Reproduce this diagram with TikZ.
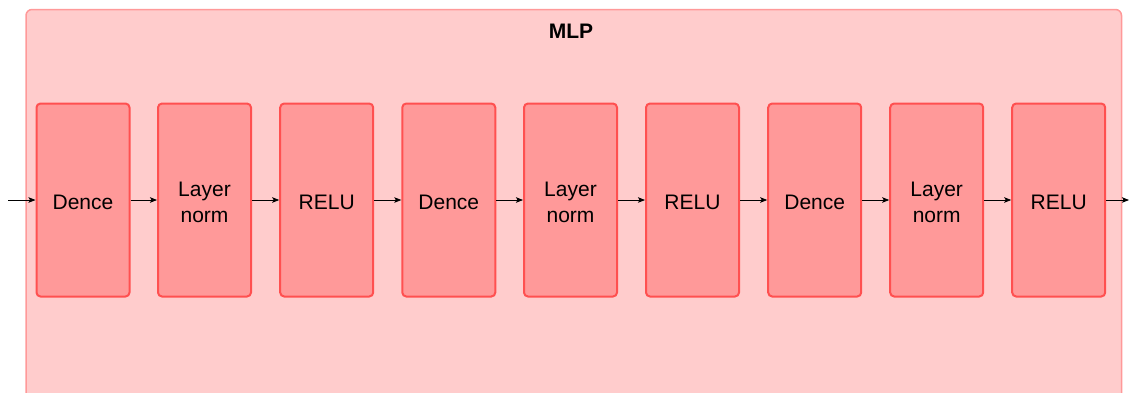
\documentclass[tikz,border=0pt]{standalone}
\usepackage{fontspec}
\setmainfont{Liberation Sans}
\usetikzlibrary{arrows.meta}
\definecolor{panelfill}{HTML}{FFCCCC}
\definecolor{paneledge}{HTML}{FF9999}
\definecolor{blockfill}{HTML}{FF9999}
\definecolor{blockedge}{HTML}{FF5050}
\tikzset{
  panel/.style={draw=paneledge, fill=panelfill, line width=1.5pt, rounded corners=6pt},
  block/.style={draw=blockedge, fill=blockfill, line width=2pt, rounded corners=4pt,
    minimum width=93pt, minimum height=193pt, inner sep=0pt},
  blocktext/.style={align=center, inner sep=0pt, yshift=-2pt,
    font=\fontsize{21}{26}\selectfont},
  flow/.style={-{Stealth[length=7pt,width=5.5pt,inset=1.5pt]}, line width=0.8pt, black},
}
\begin{document}
\begin{tikzpicture}[x=1pt,y=-1pt]
\useasboundingbox (0,0) rectangle (1130,392);
\begin{scope}
  \clip (0,0) rectangle (1130,392);
  \draw[panel] (26,9.5) rectangle (1121.5,430);
\end{scope}
\node[font=\fontsize{21}{24}\selectfont\bfseries] (title) at (571,31) {MLP};

\node[block, label={[blocktext]center:Dence}]        (b1) at (83,200)    {};
\node[block, label={[blocktext]center:Layer\\norm}]  (b2) at (204.5,200) {};
\node[block, label={[blocktext]center:RELU}]         (b3) at (326.7,200) {};
\node[block, label={[blocktext]center:Dence}]        (b4) at (448.8,200) {};
\node[block, label={[blocktext]center:Layer\\norm}]  (b5) at (570.5,200) {};
\node[block, label={[blocktext]center:RELU}]         (b6) at (692.5,200) {};
\node[block, label={[blocktext]center:Dence}]        (b7) at (814.7,200) {};
\node[block, label={[blocktext]center:Layer\\norm}]  (b8) at (936.7,200) {};
\node[block, label={[blocktext]center:RELU}]         (b9) at (1058.7,200) {};

\coordinate (in) at (8,200);
\coordinate (out) at (1129,200);

\draw[flow] (in) -- (b1.west);
\foreach \a/\b in {b1/b2,b2/b3,b3/b4,b4/b5,b5/b6,b6/b7,b7/b8,b8/b9}
  \draw[flow] (\a.east) -- (\b.west);
\draw[flow] (b9.east) -- (out);
\end{tikzpicture}
\end{document}
